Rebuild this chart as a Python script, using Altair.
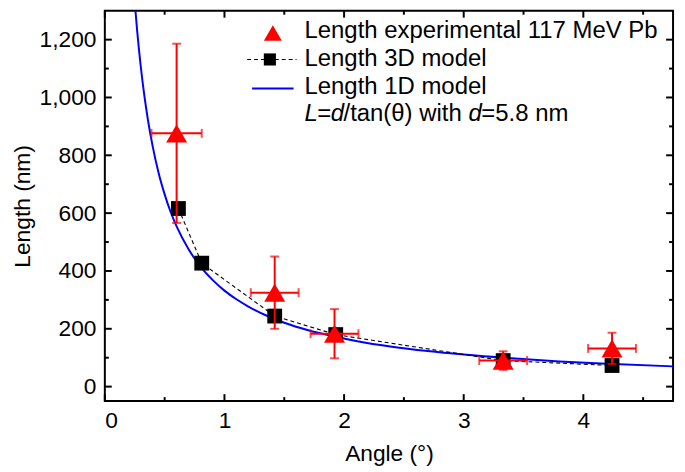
import altair as alt
import pandas as pd

# ---------------- data ----------------
exp_angle = [0.60, 1.42, 1.92, 3.33, 4.24]
exp_len = [876, 325, 183, 90, 132]
exp_len_err = [310, 125, 85, 32, 54]
exp_angle_err = [0.21, 0.20, 0.20, 0.20, 0.20]

model3d_angle = [0.615, 0.81, 1.42, 1.93, 3.33, 4.24]
model3d_len = [616, 427, 244, 180, 90, 73]

model1d_angle = [0.25, 0.27, 0.30, 0.33, 0.36, 0.40, 0.45, 0.50, 0.55, 0.60, 0.70,
                 0.80, 0.90, 1.00, 1.10, 1.20, 1.35, 1.50, 1.70, 1.90, 2.10, 2.40,
                 2.70, 3.00, 3.40, 3.80, 4.20, 4.75]
model1d_len = [1329, 1231, 1108, 1007, 923, 831, 738, 665, 604, 554, 475,
               415, 369, 332, 302, 277, 246, 221, 195, 175, 158, 138,
               123, 111, 98, 87, 79, 70]

x_major = [0, 1, 2, 3, 4]
x_minor = [0.5, 1.5, 2.5, 3.5, 4.5]
y_major = [0, 200, 400, 600, 800, 1000, 1200]
y_minor = [100, 300, 500, 700, 900, 1100]

legend_labels = ["Length experimental 117 MeV Pb", "Length 3D model", "Length 1D model"]
formula_parts = ["L", "=", "d", "/tan(\u03b8) with", "d", "=5.8 nm"]
formula_italic = [True, False, True, False, True, False]

# ---------------- layout / style ----------------
W, H = 575, 395
FONT = "Liberation Sans"
FS = 23
LFS = 24.2
RED = "#ff0000"
BLUE = "#0000ff"

xs = alt.Scale(domain=[0, 4.75], nice=False, zero=False)
ys = alt.Scale(domain=[-50, 1300], nice=False, zero=False)

exp_df = pd.DataFrame({
    "a": exp_angle, "l": exp_len,
    "lo": [v - e for v, e in zip(exp_len, exp_len_err)],
    "hi": [v + e for v, e in zip(exp_len, exp_len_err)],
    "alo": [v - e for v, e in zip(exp_angle, exp_angle_err)],
    "ahi": [v + e for v, e in zip(exp_angle, exp_angle_err)],
})
m3_df = pd.DataFrame({"a": model3d_angle, "l": model3d_len})
m1_df = pd.DataFrame({"a": model1d_angle, "l": model1d_len})

X = alt.X("a:Q", scale=xs, axis=alt.Axis(values=x_major, format="d", title="Angle (\u00b0)",
                                          labelBaseline="alphabetic", labelPadding=27,
                                          titleY=60, titleBaseline="alphabetic"))
Y = alt.Y("l:Q", scale=ys, axis=alt.Axis(values=y_major, format=",d", title="Length (nm)",
                                          titleX=-76, titleBaseline="alphabetic"))

curve = alt.Chart(m1_df).mark_line(color=BLUE, strokeWidth=2, clip=True,
                                   interpolate="monotone").encode(x=X, y=Y)
dashed = alt.Chart(m3_df).mark_line(color="black", strokeWidth=1.1,
                                    strokeDash=[4, 3]).encode(x="a:Q", y="l:Q")
squares = alt.Chart(m3_df).mark_point(shape="square", filled=True, color="black",
                                      size=225, opacity=1).encode(x="a:Q", y="l:Q")

ebar_v = alt.Chart(exp_df).mark_rule(color=RED, strokeWidth=2).encode(
    x="a:Q", y="lo:Q", y2="hi:Q")
ebar_h = alt.Chart(exp_df).mark_rule(color=RED, strokeWidth=2).encode(
    y="l:Q", x="alo:Q", x2="ahi:Q")
cap_lo = alt.Chart(exp_df).mark_tick(color=RED, orient="horizontal", size=9,
                                     thickness=2).encode(x="a:Q", y="lo:Q")
cap_hi = alt.Chart(exp_df).mark_tick(color=RED, orient="horizontal", size=9,
                                     thickness=2).encode(x="a:Q", y="hi:Q")
cap_l = alt.Chart(exp_df).mark_tick(color=RED, orient="vertical", size=9,
                                    thickness=2).encode(x="alo:Q", y="l:Q")
cap_r = alt.Chart(exp_df).mark_tick(color=RED, orient="vertical", size=9,
                                    thickness=2).encode(x="ahi:Q", y="l:Q")
tri = alt.Chart(exp_df).mark_point(shape="triangle-up", filled=True, color=RED,
                                   size=450, opacity=1).encode(x="a:Q", y="l:Q")

# inward ticks on all four sides
xt_maj = pd.DataFrame({"t": x_major})
xt_min = pd.DataFrame({"t": x_minor})
yt_maj = pd.DataFrame({"t": y_major})
yt_min = pd.DataFrame({"t": y_minor})
tick_layers = []
for df, ln in [(xt_maj, 7), (xt_min, 4)]:
    tick_layers.append(alt.Chart(df).mark_rule(color="black", strokeWidth=2).encode(
        x=alt.X("t:Q", scale=xs), y=alt.value(H), y2=alt.value(H - ln)))
    tick_layers.append(alt.Chart(df).mark_rule(color="black", strokeWidth=2).encode(
        x=alt.X("t:Q", scale=xs), y=alt.value(0), y2=alt.value(ln)))
for df, ln in [(yt_maj, 7), (yt_min, 4)]:
    tick_layers.append(alt.Chart(df).mark_rule(color="black", strokeWidth=2).encode(
        y=alt.Y("t:Q", scale=ys), x=alt.value(0), x2=alt.value(ln)))
    tick_layers.append(alt.Chart(df).mark_rule(color="black", strokeWidth=2).encode(
        y=alt.Y("t:Q", scale=ys), x=alt.value(W), x2=alt.value(W - ln)))

# manual legend (pixel positions within the plot area)
one = pd.DataFrame({"d": [0]})
OX, OY = 106, 8  # plot origin on page
TX = 308 - OX
base = [36 - OY, 64.3 - OY, 92.3 - OY, 120 - OY]
leg = []
leg.append(alt.Chart(one).mark_point(shape="triangle-up", filled=True, color=RED,
                                     size=330, opacity=1).encode(
    x=alt.value(276 - OX), y=alt.value(30.5 - OY)))
leg.append(alt.Chart(one).mark_rule(color="black", strokeWidth=1.1, strokeDash=[4, 3]).encode(
    x=alt.value(250 - OX), x2=alt.value(300 - OX), y=alt.value(57.3 - OY)))
leg.append(alt.Chart(one).mark_point(shape="square", filled=True, color="black",
                                     size=150, opacity=1).encode(
    x=alt.value(273 - OX), y=alt.value(57.3 - OY)))
leg.append(alt.Chart(one).mark_rule(color=BLUE, strokeWidth=2).encode(
    x=alt.value(255 - OX), x2=alt.value(297 - OX), y=alt.value(86.7 - OY)))
for i, lab in enumerate(legend_labels):
    leg.append(alt.Chart(one).mark_text(text=lab, font=FONT, fontSize=LFS, align="left",
                                        baseline="alphabetic", color="black").encode(
        x=alt.value(TX), y=alt.value(base[i])))
# formula line with mixed italic: start positions of each piece on the page
formula_x = [308, 321, 334.5, 347.5, 474, 487]
for part, it, px in zip(formula_parts, formula_italic, formula_x):
    leg.append(alt.Chart(one).mark_text(text=part, font=FONT, fontSize=LFS, align="left",
                                        baseline="alphabetic", color="black",
                                        fontStyle="italic" if it else "normal").encode(
        x=alt.value(px - OX), y=alt.value(base[3])))

chart = alt.layer(curve, dashed, squares, ebar_v, ebar_h, cap_lo, cap_hi, cap_l, cap_r,
                  tri, *tick_layers, *leg).properties(
    width=W, height=H,
    autosize=alt.AutoSizeParams(type="none"),
    padding={"left": 98, "top": 0, "right": 4, "bottom": 69},
).configure_view(stroke="black", strokeWidth=2).configure_axis(
    grid=False, domain=False, ticks=False, tickSize=0,
    labelFont=FONT, labelFontSize=FS, labelColor="black", labelPadding=9,
    titleFont=FONT, titleFontSize=FS, titleFontWeight="normal", titleColor="black",
)

chart.save("out.html", embed_options={"renderer": "svg", "actions": False})
